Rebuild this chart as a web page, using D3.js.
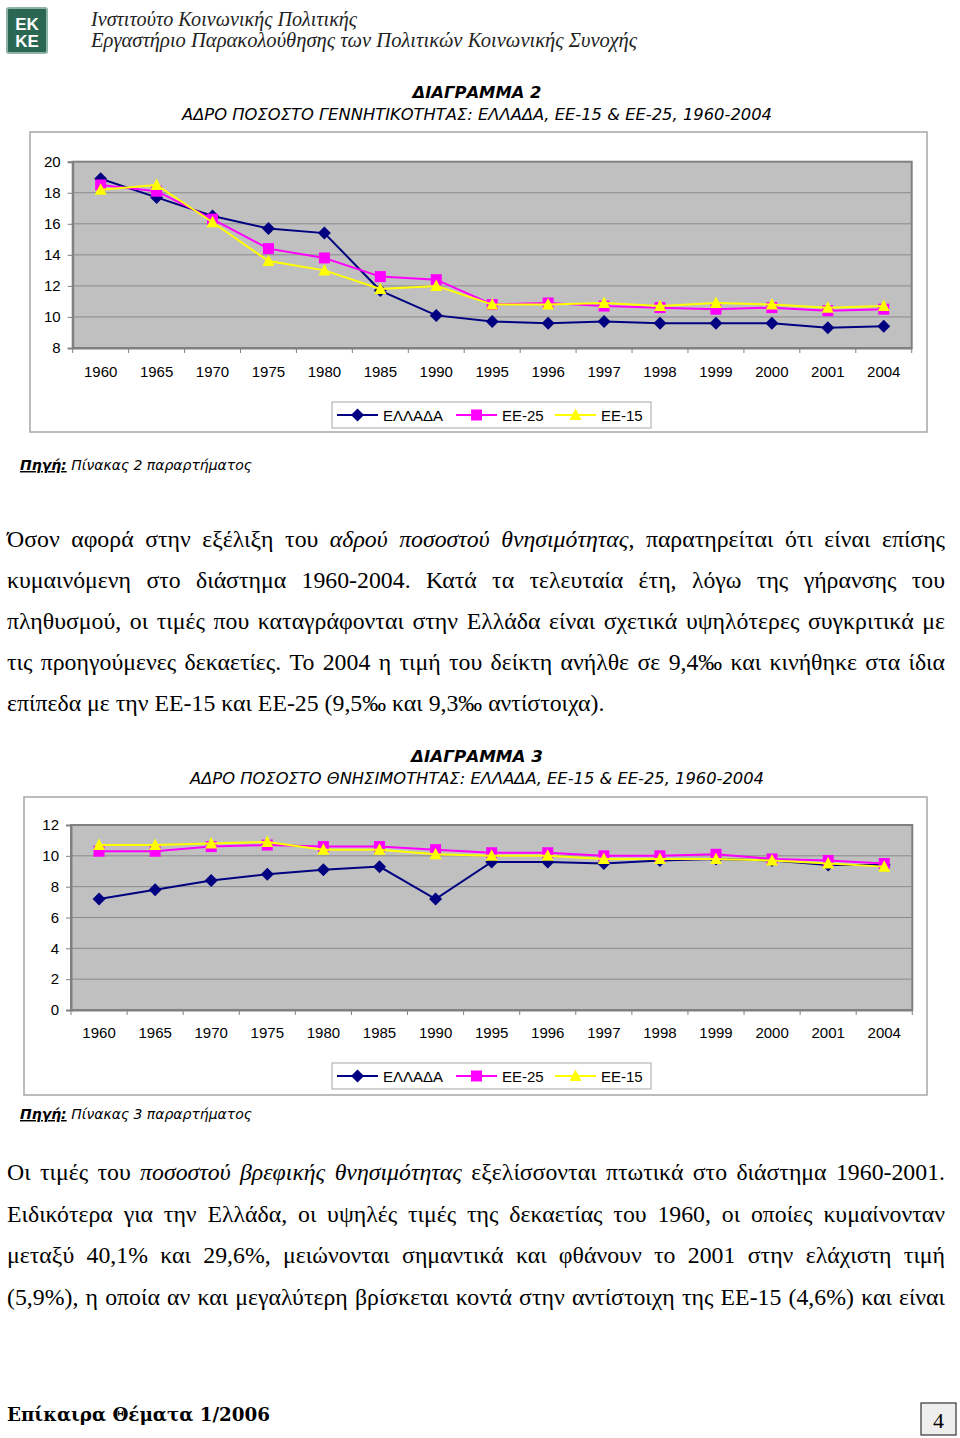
<!DOCTYPE html>
<html><head><meta charset="utf-8">
<script src="https://cdn.jsdelivr.net/npm/d3@7/dist/d3.min.js"></script>
<style>body{margin:0;background:#fff}svg{display:block}</style>
</head><body><svg id="page" width="960" height="1438"></svg>
<script>
// ---------- DATA ----------
const years = ["1960","1965","1970","1975","1980","1985","1990","1995","1996","1997","1998","1999","2000","2001","2004"];
const seriesNames = ["ΕΛΛΑΔΑ","ΕΕ-25","ΕΕ-15"];
// Chart 1: crude birth rate
const birthGreece = [18.9,17.7,16.5,15.7,15.4,11.7,10.1,9.7,9.6,9.7,9.6,9.6,9.6,9.3,9.4];
const birthEU25   = [18.5,18.1,16.3,14.4,13.8,12.6,12.4,10.8,10.9,10.7,10.6,10.5,10.6,10.4,10.5];
const birthEU15   = [18.2,18.5,16.1,13.6,13.0,11.8,12.0,10.8,10.8,10.9,10.7,10.9,10.8,10.6,10.7];
const birthTicks  = [8,10,12,14,16,18,20];
// Chart 2: crude death rate
const deathGreece = [7.2,7.8,8.4,8.8,9.1,9.3,7.2,9.6,9.6,9.5,9.7,9.8,9.7,9.4,9.4];
const deathEU25   = [10.3,10.3,10.6,10.7,10.6,10.6,10.4,10.2,10.2,10.0,10.0,10.1,9.8,9.7,9.5];
const deathEU15   = [10.7,10.7,10.8,10.9,10.4,10.4,10.1,10.0,10.0,9.8,9.8,9.8,9.7,9.5,9.3];
const deathTicks  = [0,2,4,6,8,10,12];

// ---------- STYLE ----------
const SERIF = "'Liberation Serif','Times New Roman',serif";
const SANS = "'Liberation Sans',Arial,sans-serif";
const TAH = "'DejaVu Sans',Verdana,sans-serif";
const colors = ["#000080","#ff00ff","#ffff00"];

const svg = d3.select("#page");

// ---------- HEADER ----------
const logo = svg.append("g");
logo.append("rect").attr("x",7).attr("y",8).attr("width",40).attr("height",45).attr("rx",2)
  .attr("fill","#2a6753").attr("stroke","#8fb3a5").attr("stroke-width",2);
logo.append("text").attr("x",27).attr("y",30).attr("text-anchor","middle").attr("font-family",SANS)
  .attr("font-weight","bold").attr("font-size",17).attr("fill","#fff").text("EK");
logo.append("text").attr("x",27).attr("y",47).attr("text-anchor","middle").attr("font-family",SANS)
  .attr("font-weight","bold").attr("font-size",17).attr("fill","#fff").text("KE");
svg.append("text").attr("x",91).attr("y",26).attr("font-family",SERIF).attr("font-style","italic")
  .attr("font-size",20.3).attr("fill","#222").attr("textLength",266).attr("lengthAdjust","spacingAndGlyphs")
  .text("Ινστιτούτο Κοινωνικής Πολιτικής");
svg.append("text").attr("x",91).attr("y",47).attr("font-family",SERIF).attr("font-style","italic")
  .attr("font-size",20.3).attr("fill","#222").attr("textLength",546).attr("lengthAdjust","spacingAndGlyphs")
  .text("Εργαστήριο Παρακολούθησης των Πολιτικών Κοινωνικής Συνοχής");

function titleBlock(y1, t1, w1, y2, t2, w2){
  svg.append("text").attr("x",477).attr("y",y1).attr("text-anchor","middle").attr("font-family",TAH)
    .attr("font-weight","bold").attr("font-style","italic").attr("font-size",16.5)
    .attr("textLength",w1).attr("lengthAdjust","spacingAndGlyphs").text(t1);
  svg.append("text").attr("x",477).attr("y",y2).attr("text-anchor","middle").attr("font-family",TAH)
    .attr("font-style","italic").attr("font-size",16.5)
    .attr("textLength",w2).attr("lengthAdjust","spacingAndGlyphs").text(t2);
}
titleBlock(98,"ΔΙΑΓΡΑΜΜΑ 2",129,120,"ΑΔΡΟ ΠΟΣΟΣΤΟ ΓΕΝΝΗΤΙΚΟΤΗΤΑΣ: ΕΛΛΑΔΑ, ΕΕ-15 & ΕΕ-25, 1960-2004",590);
titleBlock(762,"ΔΙΑΓΡΑΜΜΑ 3",132,784,"ΑΔΡΟ ΠΟΣΟΣΤΟ ΘΝΗΣΙΜΟΤΗΤΑΣ: ΕΛΛΑΔΑ, ΕΕ-15 & ΕΕ-25, 1960-2004",574);

// ---------- MARKERS ----------
function marker(g, i, cx, cy){
  if(i===0){
    g.append("path").attr("d",`M${cx},${cy-6.5}L${cx+6.5},${cy}L${cx},${cy+6.5}L${cx-6.5},${cy}Z`).attr("fill",colors[0]);
  } else if(i===1){
    g.append("rect").attr("x",cx-5.5).attr("y",cy-5.5).attr("width",11).attr("height",11).attr("fill",colors[1]);
  } else {
    g.append("path").attr("d",`M${cx},${cy-6.5}L${cx+6},${cy+5}L${cx-6},${cy+5}Z`).attr("fill",colors[2]);
  }
}

// ---------- CHART ----------
function chart(frame, plot, domain, ticks, series, labelY, legendY){
  const g = svg.append("g");
  g.append("rect").attr("x",frame.x).attr("y",frame.y).attr("width",frame.w).attr("height",frame.h)
    .attr("fill","#fff").attr("stroke","#a6a6a6").attr("stroke-width",1.5);
  const x = d3.scaleBand().domain(years).range([plot.x0, plot.x1]);
  const y = d3.scaleLinear().domain(domain).range([plot.y1, plot.y0]);
  g.append("rect").attr("x",plot.x0).attr("y",plot.y0).attr("width",plot.x1-plot.x0).attr("height",plot.y1-plot.y0)
    .attr("fill","#c0c0c0").attr("stroke","#808080").attr("stroke-width",2);
  g.selectAll(".grid").data(ticks.slice(1,-1)).join("line")
    .attr("x1",plot.x0).attr("x2",plot.x1).attr("y1",d=>y(d)).attr("y2",d=>y(d))
    .attr("stroke","#8a8a8a").attr("stroke-width",1);
  // y axis
  const ya = g.append("g").attr("transform",`translate(${plot.x0},0)`)
    .call(d3.axisLeft(y).tickValues(ticks).tickSize(5).tickPadding(7).tickFormat(d3.format("d")));
  ya.select(".domain").attr("stroke","#808080").attr("stroke-width",2);
  ya.selectAll(".tick line").attr("stroke","#808080");
  ya.selectAll("text").attr("font-family",SANS).attr("font-size",15).attr("fill","#000");
  // x axis labels
  const xa = g.append("g").attr("transform",`translate(0,${plot.y1})`)
    .call(d3.axisBottom(x).tickSize(0).tickPadding(0));
  xa.select(".domain").attr("stroke","#808080").attr("stroke-width",2);
  xa.selectAll("text").attr("font-family",SANS).attr("font-size",15).attr("fill","#000")
    .attr("dy",null).attr("y",labelY-plot.y1);
  // boundary tick marks
  g.selectAll(".bt").data(years.concat(["end"])).join("line")
    .attr("x1",d=>d==="end"?plot.x1:x(d)).attr("x2",d=>d==="end"?plot.x1:x(d))
    .attr("y1",plot.y1).attr("y2",plot.y1+5).attr("stroke","#808080").attr("stroke-width",1);
  // lines
  const line = d3.line().x((d,i)=>x(years[i])+x.bandwidth()/2).y(d=>y(d));
  series.forEach((s,si)=>{
    g.append("path").datum(s).attr("d",line).attr("fill","none").attr("stroke",colors[si]).attr("stroke-width",2);
    s.forEach((v,i)=>marker(g, si, x(years[i])+x.bandwidth()/2, y(v)));
  });
  // legend
  const lg = g.append("g");
  lg.append("rect").attr("x",332).attr("y",legendY).attr("width",319).attr("height",26)
    .attr("fill","#fff").attr("stroke","#a6a6a6").attr("stroke-width",1);
  const lx = [337,456,555];
  seriesNames.forEach((n,i)=>{
    const cy = legendY+13;
    lg.append("line").attr("x1",lx[i]).attr("x2",lx[i]+41).attr("y1",cy).attr("y2",cy)
      .attr("stroke",colors[i]).attr("stroke-width",2);
    marker(lg, i, lx[i]+20.5, cy);
    lg.append("text").attr("x",lx[i]+46).attr("y",cy+5.5).attr("font-family",SANS).attr("font-size",15).text(n);
  });
}
chart({x:30,y:132,w:897,h:300},{x0:72.7,x1:911.7,y0:161.7,y1:348},[8,20],birthTicks,
  [birthGreece,birthEU25,birthEU15],377,402);
chart({x:24,y:797,w:903,h:298},{x0:71,x1:912.3,y0:825,y1:1010},[0,12],deathTicks,
  [deathGreece,deathEU25,deathEU15],1038,1063);

// ---------- SOURCES ----------
function source(y, rest){
  const t = svg.append("text").attr("x",20).attr("y",y).attr("font-family",TAH).attr("font-size",14.5).attr("font-style","italic");
  t.append("tspan").attr("font-weight","bold").attr("text-decoration","underline").text("Πηγή:");
  t.append("tspan").text(" "+rest);
  t.attr("textLength",232).attr("lengthAdjust","spacingAndGlyphs");
}
source(470,"Πίνακας 2 παραρτήματος");
source(1119,"Πίνακας 3 παραρτήματος");

// ---------- PARAGRAPHS ----------
function textLine(str, y, justify){
  const x0 = 7, x1 = 945, size = 23.8;
  let ital = false;
  const g = svg.append("g");
  const words = str.split(" ").map(w=>{
    const t = g.append("text").attr("y",y).attr("font-family",SERIF).attr("font-size",size).attr("fill","#000");
    w.split("_").forEach((p,pi)=>{
      if(pi>0) ital = !ital;
      if(p.length) t.append("tspan").attr("font-style",ital?"italic":"normal").text(p);
    });
    return {t, w: t.node().getComputedTextLength()};
  });
  const total = d3.sum(words,d=>d.w);
  const gap = justify ? (x1-x0-total)/(words.length-1) : size*0.25;
  let cx = x0;
  words.forEach(d=>{ d.t.attr("x",cx); cx += d.w + gap; });
}
const para1 = [
  "Όσον αφορά στην εξέλιξη του _αδρού ποσοστού θνησιμότητας_, παρατηρείται ότι είναι επίσης",
  "κυμαινόμενη στο διάστημα 1960-2004. Κατά τα τελευταία έτη, λόγω της γήρανσης του",
  "πληθυσμού, οι τιμές που καταγράφονται στην Ελλάδα είναι σχετικά υψηλότερες συγκριτικά με",
  "τις προηγούμενες δεκαετίες. Το 2004 η τιμή του δείκτη ανήλθε σε 9,4‰ και κινήθηκε στα ίδια",
  "επίπεδα με την ΕΕ-15 και ΕΕ-25 (9,5‰ και 9,3‰ αντίστοιχα)."
];
para1.forEach((s,i)=>textLine(s, 547+i*41, i<para1.length-1));
const para2 = [
  "Οι τιμές του _ποσοστού βρεφικής θνησιμότητας_ εξελίσσονται πτωτικά στο διάστημα 1960-2001.",
  "Ειδικότερα για την Ελλάδα, οι υψηλές τιμές της δεκαετίας του 1960, οι οποίες κυμαίνονταν",
  "μεταξύ 40,1% και 29,6%, μειώνονται σημαντικά και φθάνουν το 2001 στην ελάχιστη τιμή",
  "(5,9%), η οποία αν και μεγαλύτερη βρίσκεται κοντά στην αντίστοιχη της ΕΕ-15 (4,6%) και είναι"
];
para2.forEach((s,i)=>textLine(s, 1180+i*41.5, true));

// ---------- FOOTER ----------
svg.append("text").attr("x",7).attr("y",1421).attr("font-family","'DejaVu Serif',serif").attr("font-weight","bold")
  .attr("font-size",19).attr("textLength",263).attr("lengthAdjust","spacingAndGlyphs").text("Επίκαιρα Θέματα 1/2006");
svg.append("rect").attr("x",921).attr("y",1403).attr("width",35).attr("height",32)
  .attr("fill","#eeeeee").attr("stroke","#333").attr("stroke-width",1.2);
svg.append("text").attr("x",938.5).attr("y",1428).attr("text-anchor","middle").attr("font-family",SERIF)
  .attr("font-size",22).text("4");
</script></body></html>
